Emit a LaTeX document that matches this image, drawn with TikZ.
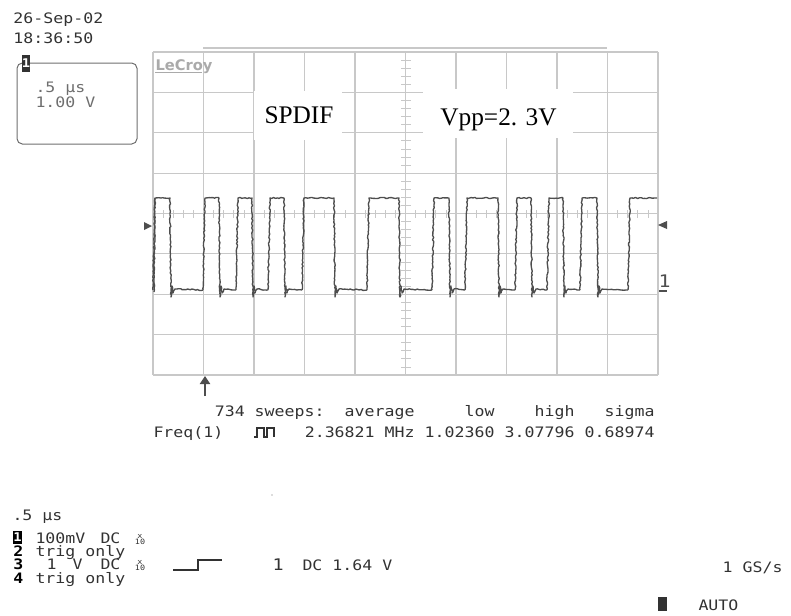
\documentclass[tikz,border=0pt]{standalone}
\usepackage{fontspec}
\setmainfont{Liberation Serif}
\newfontfamily\scopefont[FakeStretch=1.15]{DejaVu Sans Mono}
\newfontfamily\logofont{DejaVu Sans}
\usetikzlibrary{arrows.meta,decorations.pathmorphing}

\definecolor{gridgray}{RGB}{200,200,200}
\definecolor{tracegray}{RGB}{78,78,78}
\definecolor{labelgray}{RGB}{50,50,50}
\definecolor{softgray}{RGB}{110,110,110}

\newcommand\scopesize{\scopefont\fontsize{10.8}{12}\selectfont}

\tikzset{every picture/.style={line width=0.75pt}}
\tikzset{
  gridline/.style={color=gridgray, line width=0.8pt},
  tickline/.style={color=gridgray, line width=0.6pt},
  trace/.style={color=tracegray, line width=1pt, line join=round,
    decorate, decoration={random steps, segment length=1.4pt, amplitude=0.45pt}},
  readout/.style={text=labelgray, font=\scopesize, inner sep=0pt},
  chantag/.style={text=black, font=\scopesize\bfseries, inner sep=0pt, anchor=base west},
  tagbox/.style={fill=black, text=white, font=\scopefont\fontsize{9}{10}\selectfont\bfseries,
    inner sep=0pt, minimum width=6.75pt, minimum height=9.75pt},
  boxtext/.style={text=softgray, font=\scopesize, inner sep=0pt, anchor=base west},
  multext/.style={text=labelgray, font=\scopefont\fontsize{5.5}{6}\selectfont, inner sep=0pt},
  bigtext/.style={text=black, font=\fontsize{19}{22}\selectfont, inner sep=0pt, anchor=base}
}

\begin{document}
\begin{tikzpicture}[x=0.75pt,y=0.75pt,yscale=-1,xscale=1]
\useasboundingbox (0,0) rectangle (791,615);

% Date and time
\draw (13,23.5) node (date) [readout, anchor=base west] {26-Sep-02};
\draw (13,43.5) node (time) [readout, anchor=base west] {18:36:50};

%Rounded box of channel 1
\draw [color=softgray, rounded corners=4] (17,63) rectangle (137,144);
\draw (26,63.5) node (boxtag) [tagbox, fill=labelgray, minimum width=6pt, minimum height=12.5pt] {1};
\draw (35,92) node (boxtime) [boxtext] {.5 µs};
\draw (35,107) node (boxvolt) [boxtext] {1.00 V};

%Grid
\draw [gridline] (203,48) -- (607,48);
\foreach \i in {0,...,10}
  \draw [gridline] ({153+50.5*\i},52) -- ({153+50.5*\i},375);
\foreach \j in {0,...,8}
  \draw [gridline] (153,{52+40.375*\j}) -- (658,{52+40.375*\j});
\foreach \j in {1,...,39}
  \draw [tickline] (401,{52+8.075*\j}) -- (411,{52+8.075*\j});
\foreach \i in {1,...,49}
  \draw [tickline] ({153+10.1*\i},210) -- ({153+10.1*\i},218);

% Logo
\draw (155,70) node (logo) [anchor=base west, inner sep=0pt, text=gridgray!85!black, font=\logofont\fontsize{11}{12}\selectfont\bfseries] {LeCroy};
\draw [color=gridgray!85!black, line width=1pt] (logo.base west) ++(0,2.5) -- ++(47,0);

% Label boxes
\fill [white] (254,91) rectangle (342,140);
\fill [white] (423,89) rectangle (573,138);
\draw (299,123) node (spdif) [bigtext] {SPDIF};
\draw (498.5,125) node (vpp) [bigtext] {Vpp=2. 3V};

% Trace
\draw [trace] (154,292) -- (155,198);
\foreach \a/\b/\n in {155/170/205, 205/219/238, 238/252/270, 270/284/304, 304/334/369,
                      369/399/434, 434/449/467, 467/498/517, 517/531/549, 549/563/582, 582/597/630}
  \draw [trace] ({\a-2},290) -- (\a,198) -- (\b,198) -- ({\b+1},297) -- ({\b+2},286)
                -- ({\b+3},293) -- ({\b+5},289) -- ({\n-2},290);
\draw [trace] (628,290) -- (630,198) -- (657,198);

% Level markers
\fill [tracegray] (144,222) -- (144,230) -- (152,226) -- cycle;
\fill [tracegray] (667,221) -- (667,229) -- (658,225) -- cycle;
\draw (658,287) node (gndone) [readout, anchor=base west, text=tracegray, font=\scopefont\fontsize{13}{14}\selectfont] {1};
\draw [tracegray, line width=1.2pt] (659,291) -- (667,291);

% Trigger arrow
\coordinate (trigbase) at (205,396);
\coordinate (trigtip) at (205,376);
\draw [tracegray, line width=1.8pt, -{Triangle[length=6pt,width=7.5pt]}] (trigbase) -- (trigtip);

% Parameter readout
\draw (325,416) node (sweeps) [readout, anchor=base east] {734 sweeps:};
\draw (415,416) node (avghead) [readout, anchor=base east] {average};
\draw (495,416) node (lowhead) [readout, anchor=base east] {low};
\draw (575,416) node (highhead) [readout, anchor=base east] {high};
\draw (655,416) node (sigmahead) [readout, anchor=base east] {sigma};
\draw (153,437) node (freq) [readout, anchor=base west] {Freq(1)};
\draw [labelgray, line width=0.8pt] (254,437) -- (257,437) -- (257,428) -- (264,428) -- (264,437)
      -- (267,437) -- (267,428) -- (274,428) -- (274,437);
\draw (415,437) node (avgval) [readout, anchor=base east] {2.36821 MHz};
\draw (495,437) node (lowval) [readout, anchor=base east] {1.02360};
\draw (575,437) node (highval) [readout, anchor=base east] {3.07796};
\draw (655,437) node (sigmaval) [readout, anchor=base east] {0.68974};

% stray dot
\fill [softgray] (272,495) circle (0.7);

% Timebase and channels
\draw (12,520) node (tbase) [readout, anchor=base west] {.5 µs};
\draw (17.5,537.5) node (chone) [tagbox] {1};
\draw (35,543) node (chonevolt) [readout, anchor=base west] {100mV};
\draw (100,543) node (chonedc) [readout, anchor=base west] {DC};
\draw (140,536) node (chonemul) [multext] {x};
\draw (140,541.5) node (chonediv) [multext] {10};
\draw (13,556) node (chtwo) [chantag] {2};
\draw (35,556) node (chtwotxt) [readout, anchor=base west] {trig only};
\draw (13,569.5) node (chthree) [chantag] {3};
\draw (46,569.5) node (chthreeone) [readout, anchor=base west] {1};
\draw (72,569.5) node (chthreevolt) [readout, anchor=base west] {V};
\draw (100,569.5) node (chthreedc) [readout, anchor=base west] {DC};
\draw (140,562) node (chthreemul) [multext] {x};
\draw (140,567.5) node (chthreediv) [multext] {10};
\draw (13,583) node (chfour) [chantag] {4};
\draw (35,583) node (chfourtxt) [readout, anchor=base west] {trig only};

% Trigger setup
\draw [labelgray, line width=0.8pt] (173,570) -- (198,570) -- (198,560) -- (222,560);
\draw (272,570) node (trigsrc) [readout, anchor=base west, font=\scopefont\fontsize{12}{13}\selectfont] {1};
\draw (302,570) node (triglevel) [readout, anchor=base west] {DC 1.64 V};

% Sample rate and mode
\draw (783,572) node (srate) [readout, anchor=base east] {1 GS/s};
\fill [labelgray] (658,597) rectangle (667,611);
\draw (698,610) node (mode) [readout, anchor=base west] {AUTO};

\end{tikzpicture}
\end{document}
